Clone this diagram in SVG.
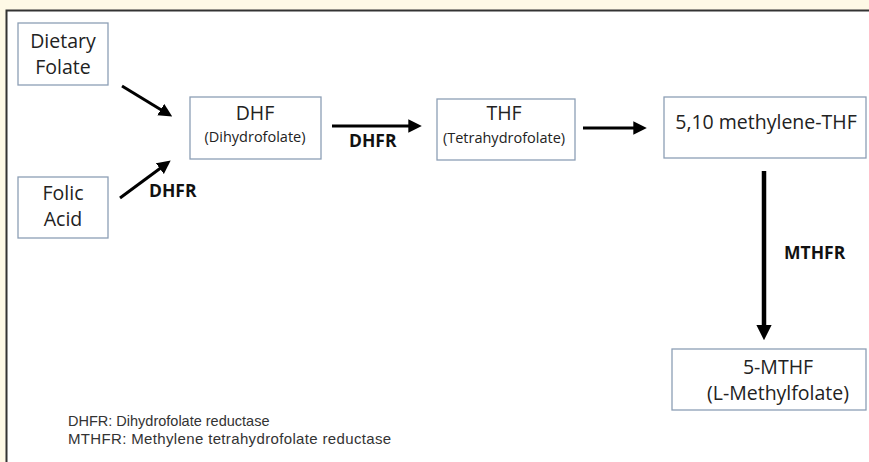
<svg xmlns="http://www.w3.org/2000/svg" width="869" height="462" viewBox="0 0 869 462">
<style>
.box{fill:#fff;stroke:#8d9fb5;stroke-width:1.3}
.t{font-family:"Open Sans","Liberation Sans",sans-serif;fill:#222;text-anchor:middle}
.big{font-size:19.5px}
.sm{font-size:14.5px}
.lbl{font-family:"Open Sans","Liberation Sans",sans-serif;font-weight:bold;font-size:17.5px;fill:#111}
.leg{font-family:"Liberation Sans",sans-serif;font-size:15px;fill:#333}
.c{stroke:#000;stroke-width:3;fill:none;marker-end:url(#ah)}
</style>
<defs>
<marker id="ah" viewBox="0 0 10 10" refX="2" refY="5" markerWidth="4.5" markerHeight="4.5" orient="auto" markerUnits="strokeWidth">
<path d="M0,0 L10,5 L0,10 z" fill="#000"/>
</marker>
<marker id="ahv" viewBox="0 0 10 10" refX="2" refY="5" markerWidth="3.4" markerHeight="3.4" orient="auto" markerUnits="strokeWidth">
<path d="M0,0 L10,5 L0,10 z" fill="#000"/>
</marker>
</defs>
<rect x="0" y="0" width="869" height="462" fill="#fef9e6"/>
<rect x="6.5" y="10.5" width="870" height="460" fill="#fff" stroke="#333" stroke-width="2"/>
<g id="dietary">
<rect class="box" x="18" y="23" width="90" height="62"/>
<text class="t big" x="63" y="48">Dietary</text>
<text class="t big" x="63" y="74">Folate</text>
</g>
<g id="folic">
<rect class="box" x="18" y="177" width="90" height="61"/>
<text class="t big" x="63" y="200">Folic</text>
<text class="t big" x="63" y="226">Acid</text>
</g>
<g id="dhf">
<rect class="box" x="190" y="97" width="131" height="62"/>
<text class="t big" x="255" y="120">DHF</text>
<text class="t sm" x="255" y="142">(Dihydrofolate)</text>
</g>
<g id="thf">
<rect class="box" x="437" y="99" width="138" height="61"/>
<text class="t big" x="504" y="120">THF</text>
<text class="t sm" x="504" y="143">(Tetrahydrofolate)</text>
</g>
<g id="methylene">
<rect class="box" x="664" y="97" width="202" height="61"/>
<text class="t big" x="766" y="129">5,10 methylene-THF</text>
</g>
<g id="mthf">
<rect class="box" x="672" y="349" width="194" height="61"/>
<text class="t big" x="778" y="374">5-MTHF</text>
<text class="t big" x="778" y="400">(L-Methylfolate)</text>
</g>
<g id="connectors">
<line class="c" x1="122" y1="86" x2="163" y2="111"/>
<line class="c" x1="120" y1="198" x2="162" y2="167"/>
<line class="c" x1="332" y1="126" x2="411" y2="126"/>
<line class="c" x1="583" y1="128" x2="636" y2="128"/>
<line class="c" x1="764" y1="171" x2="764" y2="328" style="stroke-width:4.5;marker-end:url(#ahv)"/>
<text class="lbl" x="149" y="197">DHFR</text>
<text class="lbl" x="349" y="147">DHFR</text>
<text class="lbl" x="784" y="259">MTHFR</text>
</g>
<g id="legend">
<text class="leg" x="68" y="426" style="font-size:14.5px">DHFR: Dihydrofolate reductase</text>
<text class="leg" x="68" y="444" letter-spacing="0.35">MTHFR: Methylene tetrahydrofolate reductase</text>
</g>
</svg>
